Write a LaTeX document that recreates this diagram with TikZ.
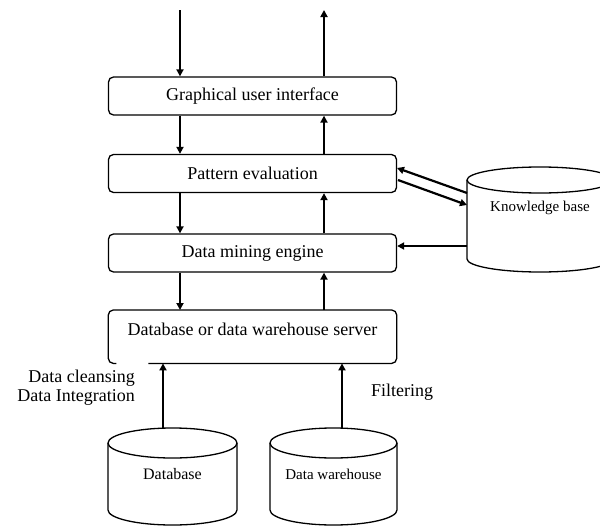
\documentclass[tikz,border=0pt]{standalone}
\usepackage{fontspec}
\setmainfont{Liberation Serif}
\usetikzlibrary{arrows.meta}
\begin{document}
\begin{tikzpicture}[x=1pt,y=-1pt,
  layer/.style={draw, line width=1.3pt, rounded corners=5pt, minimum width=288pt,
    minimum height=38pt, inner sep=0pt, font=\fontsize{18}{21}\selectfont},
  flow/.style={line width=2.6pt, -{Triangle[length=7pt,width=7pt]}},
  kflow/.style={line width=2.2pt, -{Triangle[length=7pt,width=7pt]}},
  drum/.style={line width=1.3pt},
  txt/.style={inner sep=0pt, font=\fontsize{18}{19}\selectfont}]
\useasboundingbox (0,0) rectangle (600,530);

% layered system boxes
\node[layer] (gui) at (252.5,96) {Graphical user interface};
\node[layer] (pe) at (252.5,173.5) {Pattern evaluation};
\node[layer] (dm) at (252.5,253) {Data mining engine};
\node[anchor=north, minimum width=288pt, minimum height=53pt, inner sep=0pt] (server) at (252.5,310) {};
\node[txt] (serverlbl) at (252.5,329) {Database or data warehouse server};
\draw[line width=1.3pt, rounded corners=5pt]
  ([xshift=8pt]server.south west) -- (server.south west) -- (server.north west)
  -- (server.north east) -- (server.south east) -- ([xshift=40pt]server.south west);

% knowledge base drum (runs off the right edge)
\begin{scope}
\clip (0,0) rectangle (600,530);
\draw[drum] (467,180) -- (467,259) arc[start angle=180, end angle=0, x radius=73, y radius=13]
  -- (613,180);
\draw[drum] (540,180) ellipse[x radius=73, y radius=13];
\end{scope}
\node[inner sep=0pt, font=\fontsize{15}{17}\selectfont] (kb) at (540,208) {Knowledge base};
\coordinate (kbA) at (467,193);
\coordinate (kbB) at (467,205);
\coordinate (kbC) at (467,246);
\coordinate (peA) at (397,168);
\coordinate (peB) at (398,180);

% source drums
\draw[drum] (108,443) -- (108,510) arc[start angle=180, end angle=0, x radius=64.5, y radius=15] -- (237,443);
\draw[drum] (172.5,443) ellipse[x radius=64.5, y radius=15];
\node[inner sep=0pt, font=\fontsize{16}{18}\selectfont] (db) at (172.5,474) {Database};
\coordinate (dbtop) at (163,428);

\draw[drum] (270,443) -- (270,510) arc[start angle=180, end angle=0, x radius=63.5, y radius=15] -- (397,443);
\draw[drum] (333.5,443) ellipse[x radius=63.5, y radius=15];
\node[inner sep=0pt, font=\fontsize{15}{17}\selectfont] (dw) at (333.5,474) {Data warehouse};
\coordinate (dwtop) at (342,428);

% free ends at the top
\coordinate (query) at (180,10);
\coordinate (result) at (324,10);

% downward and upward flows
\draw[flow] (query) -- (query |- gui.north);
\draw[flow] (gui.north -| result) -- (result);
\draw[flow] (gui.south -| query) -- (pe.north -| query);
\draw[flow] (pe.north -| result) -- (gui.south -| result);
\draw[flow] (pe.south -| query) -- (dm.north -| query);
\draw[flow] (dm.north -| result) -- (pe.south -| result);
\draw[flow] (dm.south -| query) -- (server.north -| query);
\draw[flow] (server.north -| result) -- (dm.south -| result);
\draw[flow] (dbtop) -- (server.south -| dbtop);
\draw[flow] (dwtop) -- (server.south -| dwtop);

% knowledge base links
\draw[kflow] (kbA) -- (peA);
\draw[kflow] (peB) -- (kbB);
\draw[kflow] (kbC) -- (kbC -| dm.east);

% side notes
\node[txt, align=right, anchor=east] (clean) at (135,387.5) {Data cleansing\\Data Integration};
\node[txt, anchor=west] (filter) at (371,392) {Filtering};
\end{tikzpicture}
\end{document}
